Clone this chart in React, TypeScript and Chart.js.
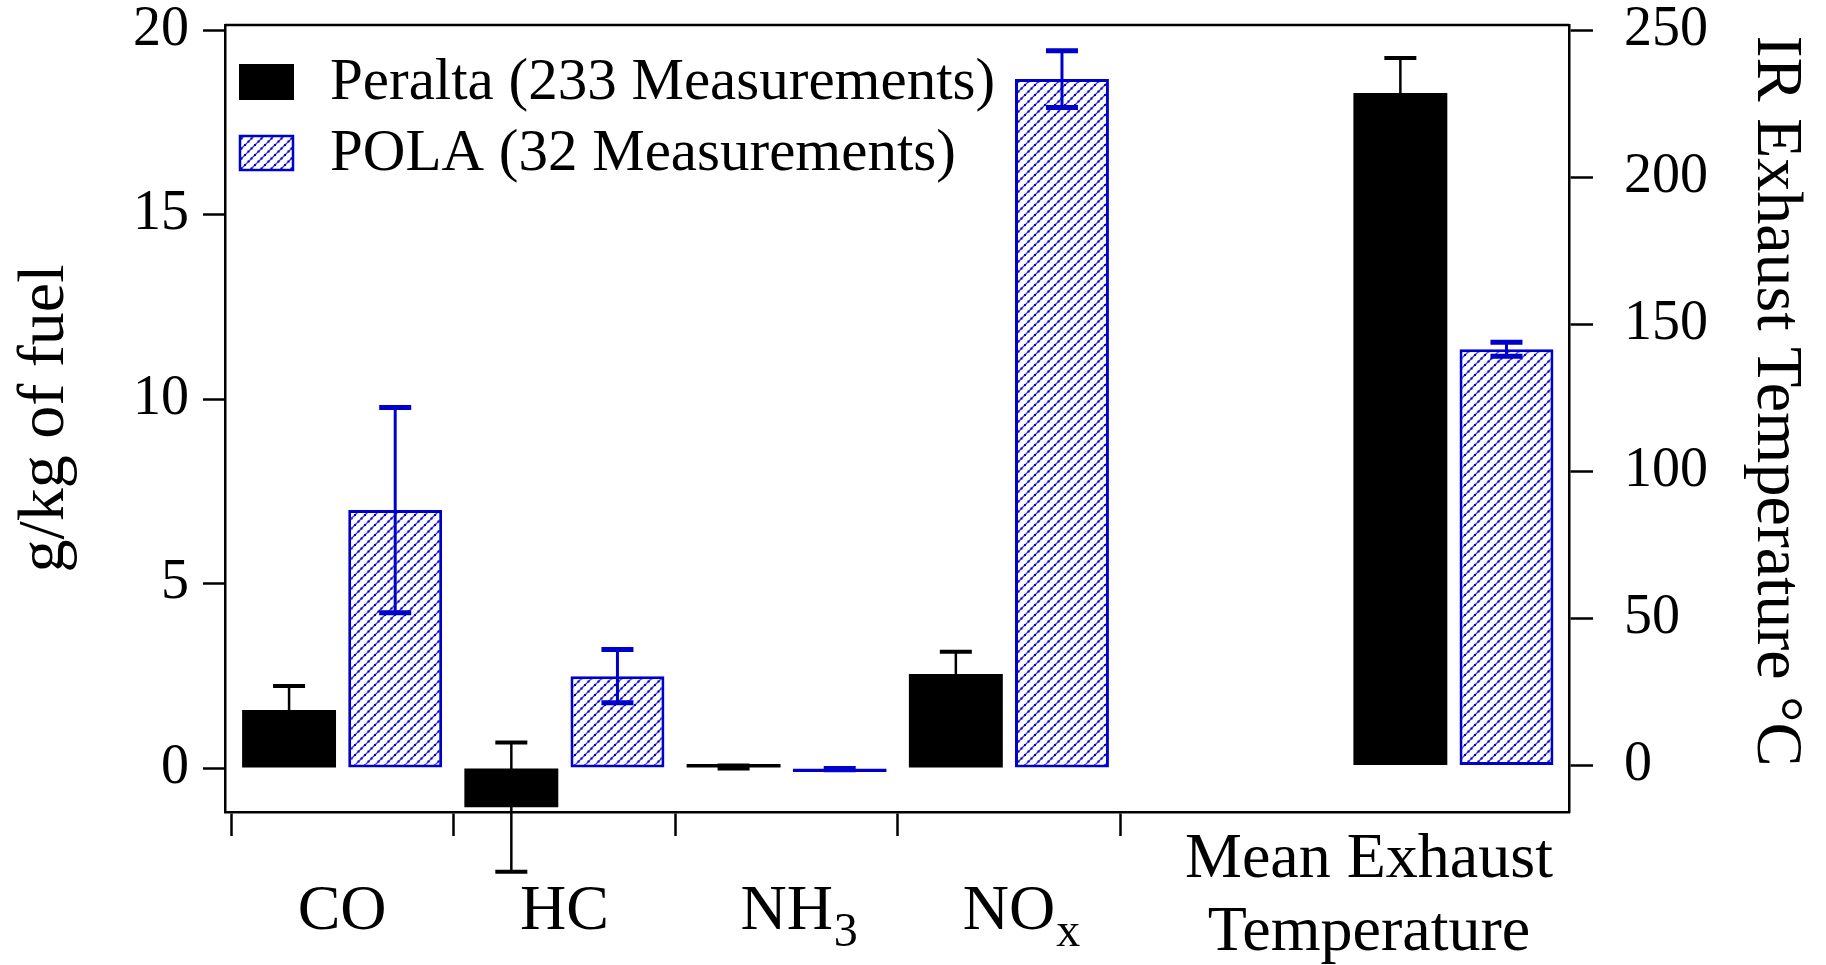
import React, { useEffect, useRef } from "react";
import { Chart, registerables } from "chart.js";

Chart.register(...registerables);

// ---------------- data ----------------
const gasLabels = ["CO", "HC", "NH", "NO"];
const gasSubscripts = ["", "", "3", "x"];
const gasPositions = [0, 1, 2, 3];

const peraltaGas = [1.57, -1.06, 0.03, 2.55];
const peraltaGasErr = [0.65, 1.75, 0.04, 0.6];
const polaGas = [6.99, 2.49, -0.03, 18.67];
const polaGasErr = [2.78, 0.72, 0.02, 0.77];

const tempLabelLines = ["Mean Exhaust", "Temperature"];
const tempPositions = [5];
const peraltaTemp = [228.6];
const peraltaTempErr = [11.9];
const polaTemp = [141.5];
const polaTempErr = [2.4];

const leftTicks = [0, 5, 10, 15, 20];
const rightTicks = [0, 50, 100, 150, 200, 250];
const categoryEdges = [-0.5, 0.5, 1.5, 2.5, 3.5];

const seriesNames = ["Peralta (233 Measurements)", "POLA (32 Measurements)"];
const leftTitle = "g/kg of fuel";
const rightTitle = "IR Exhaust Temperature \u00B0C";

// ---------------- style ----------------
const FONT = '"Liberation Serif", "Times New Roman", serif';
const BLUE = "rgb(0,0,204)";
const BLACK = "#000";
const tempLabelAnchor = 4.62;

function makeHatch(): CanvasPattern | string {
  const c = document.createElement("canvas");
  c.width = 10;
  c.height = 10;
  const g = c.getContext("2d");
  if (!g) return BLUE;
  g.fillStyle = "#fff";
  g.fillRect(0, 0, 10, 10);
  g.strokeStyle = "rgba(0,0,204,0.75)";
  g.lineWidth = 1.4;
  g.beginPath();
  g.moveTo(-1, 11);
  g.lineTo(11, -1);
  g.moveTo(-1, 1);
  g.lineTo(1, -1);
  g.moveTo(9, 11);
  g.lineTo(11, 9);
  g.stroke();
  g.fillStyle = BLUE;
  for (const t of [1.5, 5, 8.5]) {
    g.fillRect(t - 1, 10 - t - 1, 2, 2);
  }
  const p = g.createPattern(c, "repeat");
  return p || BLUE;
}

export default function App() {
  const ref = useRef<HTMLCanvasElement>(null);

  useEffect(() => {
    document.body.style.margin = "0";
    const canvas = ref.current;
    if (!canvas) return;
    const hatch = makeHatch();

    const values = [peraltaGas, polaGas, peraltaTemp, polaTemp];
    const errors = [peraltaGasErr, polaGasErr, peraltaTempErr, polaTempErr];
    const errColors = [BLACK, BLUE, BLACK, BLUE];

    const errorBarPlugin = {
      id: "errorBars",
      afterDatasetsDraw(chart: any) {
        const ctx = chart.ctx;
        ctx.save();
        chart.data.datasets.forEach((ds: any, di: number) => {
          const meta = chart.getDatasetMeta(di);
          const ys = chart.scales[meta.yAxisID];
          meta.data.forEach((el: any, i: number) => {
            const v = values[di][i];
            const e = errors[di][i];
            const hi = ys.getPixelForValue(v + e);
            const lo = ys.getPixelForValue(v - e);
            const isBlue = errColors[di] === BLUE;
            ctx.strokeStyle = errColors[di];
            ctx.lineWidth = isBlue ? 3 : 2.5;
            ctx.beginPath();
            ctx.moveTo(el.x, hi);
            ctx.lineTo(el.x, lo);
            ctx.stroke();
            ctx.lineWidth = isBlue ? 5 : 4;
            ctx.beginPath();
            ctx.moveTo(el.x - 16, hi);
            ctx.lineTo(el.x + 16, hi);
            ctx.moveTo(el.x - 16, lo);
            ctx.lineTo(el.x + 16, lo);
            ctx.stroke();
          });
        });
        ctx.restore();
      },
    };

    const decorPlugin = {
      id: "decor",
      afterDraw(chart: any) {
        const ctx = chart.ctx;
        const { left, right, top, bottom } = chart.chartArea;
        const xs = chart.scales.x;
        ctx.save();
        // top frame line
        ctx.strokeStyle = BLACK;
        ctx.lineWidth = 2.5;
        ctx.beginPath();
        ctx.moveTo(left, top);
        ctx.lineTo(right, top);
        ctx.stroke();

        // legend
        const bx = left + 14;
        const bw = 55;
        const bh = 36;
        const rows = [top + 39, top + 110];
        ctx.font = `59px ${FONT}`;
        ctx.textAlign = "left";
        ctx.textBaseline = "alphabetic";
        rows.forEach((ry, k) => {
          if (k === 0) {
            ctx.fillStyle = BLACK;
            ctx.fillRect(bx, ry, bw, bh);
          } else {
            ctx.fillStyle = hatch;
            ctx.fillRect(bx, ry, bw, bh);
            ctx.strokeStyle = BLUE;
            ctx.lineWidth = 2.5;
            ctx.strokeRect(bx + 1, ry + 1, bw - 2, bh - 2);
          }
          ctx.fillStyle = BLACK;
          ctx.fillText(seriesNames[k], left + 105, ry + bh - 1);
        });

        // category labels with subscripts
        gasPositions.forEach((pos, i) => {
          const cx = xs.getPixelForValue(pos);
          ctx.font = `64px ${FONT}`;
          const w = ctx.measureText(gasLabels[i]).width;
          ctx.fillStyle = BLACK;
          ctx.textAlign = "left";
          ctx.fillText(gasLabels[i], cx - w / 2, bottom + 117);
          if (gasSubscripts[i]) {
            ctx.font = `48px ${FONT}`;
            ctx.fillText(gasSubscripts[i], cx + w / 2 + 1, bottom + 134);
          }
        });
        ctx.font = `64px ${FONT}`;
        ctx.textAlign = "center";
        const tx = xs.getPixelForValue(tempLabelAnchor);
        ctx.fillText(tempLabelLines[0], tx, bottom + 65);
        ctx.fillText(tempLabelLines[1], tx, bottom + 138);

        // right axis title
        ctx.translate(1758, 401);
        ctx.rotate(Math.PI / 2);
        ctx.font = `66px ${FONT}`;
        ctx.textAlign = "center";
        ctx.textBaseline = "alphabetic";
        ctx.fillText(rightTitle, 0, 0);
        ctx.restore();
      },
    };

    const tickFont = { family: FONT, size: 56 };

    const chart = new Chart(canvas, {
      type: "bar",
      data: {
        datasets: [
          {
            label: seriesNames[0],
            data: gasPositions.map((x, i) => ({ x, y: peraltaGas[i] })),
            backgroundColor: BLACK,
            borderWidth: 0,
            yAxisID: "y",
            stack: "A",
            minBarLength: 4,
          },
          {
            label: seriesNames[1],
            data: gasPositions.map((x, i) => ({ x, y: polaGas[i] })),
            backgroundColor: hatch as any,
            borderColor: BLUE,
            borderWidth: 3,
            borderSkipped: false,
            yAxisID: "y",
            stack: "B",
            minBarLength: 4,
          },
          {
            label: seriesNames[0] + " temperature",
            data: tempPositions.map((x, i) => ({ x, y: peraltaTemp[i] })),
            backgroundColor: BLACK,
            borderWidth: 0,
            yAxisID: "y2",
            stack: "A",
          },
          {
            label: seriesNames[1] + " temperature",
            data: tempPositions.map((x, i) => ({ x, y: polaTemp[i] })),
            backgroundColor: hatch as any,
            borderColor: BLUE,
            borderWidth: 3,
            borderSkipped: false,
            yAxisID: "y2",
            stack: "B",
          },
        ] as any,
      },
      options: {
        responsive: false,
        animation: false,
        devicePixelRatio: 1,
        categoryPercentage: 0.955,
        barPercentage: 0.885,
        layout: { padding: { top: 25, left: 0, right: 0, bottom: 0 } },
        plugins: {
          legend: { display: false },
          tooltip: { enabled: false },
        },
        scales: {
          x: {
            type: "linear",
            offset: false,
            min: -0.527,
            max: 5.52,
            afterBuildTicks: (s: any) => {
              s.ticks = categoryEdges.map((v) => ({ value: v }));
            },
            afterFit: (s: any) => {
              s.height = 153;
              s.paddingLeft = 0;
              s.paddingRight = 0;
            },
            ticks: { display: false },
            grid: {
              display: true,
              offset: false,
              drawOnChartArea: false,
              drawTicks: true,
              tickLength: 24,
              tickWidth: 2.5,
              tickColor: BLACK,
            },
            border: { display: true, color: BLACK, width: 2.5 },
          },
          y: {
            type: "linear",
            position: "left",
            min: -1.192,
            max: 20.136,
            afterBuildTicks: (s: any) => {
              s.ticks = leftTicks.map((v) => ({ value: v }));
            },
            afterFit: (s: any) => {
              s.width = 225;
              s.paddingTop = 0;
              s.paddingBottom = 0;
            },
            ticks: { font: tickFont, color: BLACK, padding: 14 },
            grid: {
              display: true,
              drawOnChartArea: false,
              drawTicks: true,
              tickLength: 22,
              tickWidth: 2.5,
              tickColor: BLACK,
            },
            border: { display: true, color: BLACK, width: 2.5 },
            title: {
              display: true,
              text: leftTitle,
              color: BLACK,
              font: { family: FONT, size: 66 },
              padding: { top: 6, bottom: 0 },
            },
          },
          y2: {
            type: "linear",
            position: "right",
            min: -15.8,
            max: 251.7,
            afterBuildTicks: (s: any) => {
              s.ticks = rightTicks.map((v) => ({ value: v }));
            },
            afterFit: (s: any) => {
              s.width = 257;
              s.paddingTop = 0;
              s.paddingBottom = 0;
            },
            ticks: { font: tickFont, color: BLACK, padding: 31 },
            grid: {
              display: true,
              drawOnChartArea: false,
              drawTicks: true,
              tickLength: 24,
              tickWidth: 2.5,
              tickColor: BLACK,
            },
            border: { display: true, color: BLACK, width: 2.5 },
          },
        },
      } as any,
      plugins: [errorBarPlugin, decorPlugin],
    });

    return () => chart.destroy();
  }, []);

  return (
    <canvas
      ref={ref}
      width={1826}
      height={965}
      style={{ display: "block", width: 1826, height: 965 }}
    />
  );
}
